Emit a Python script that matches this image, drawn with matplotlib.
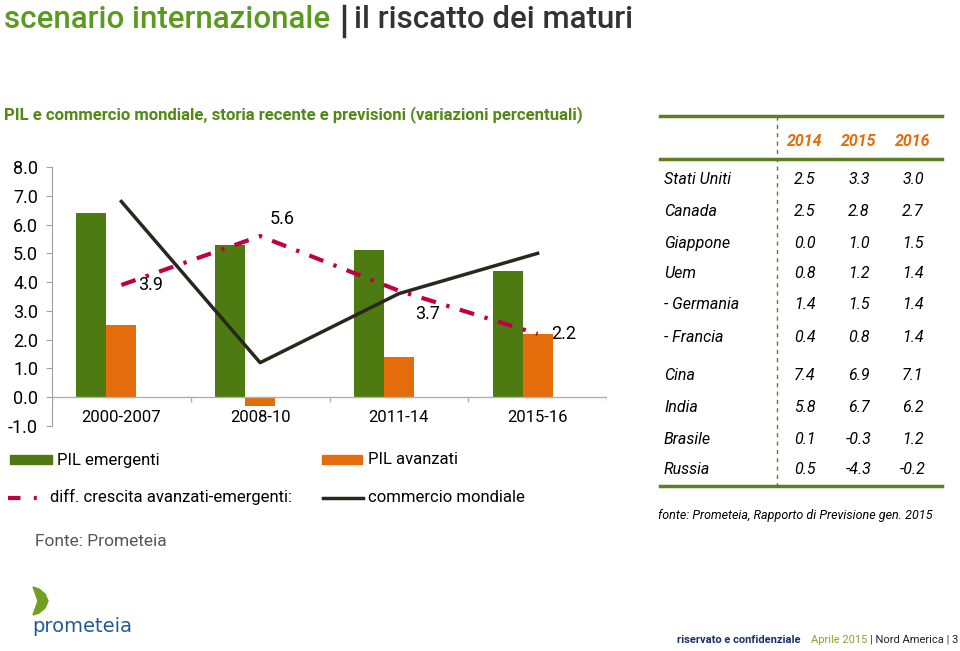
import numpy as np
import matplotlib
matplotlib.use('Agg')
import matplotlib.pyplot as plt
from matplotlib.lines import Line2D
from matplotlib.patches import Rectangle, Polygon

# Dati del grafico
periodi = ['2000-2007', '2008-10', '2011-14', '2015-16']
pil_emergenti = [6.4, 5.3, 5.1, 4.4]
pil_avanzati = [2.5, -0.3, 1.4, 2.2]
diff_crescita = [3.9, 5.6, 3.7, 2.2]
commercio = [6.8, 1.2, 3.6, 5.0]

# Dati della tabella
anni = ['2014', '2015', '2016']
paesi_1 = ['Stati Uniti', 'Canada', 'Giappone', 'Uem', '- Germania', '- Francia']
valori_1 = [['2.5', '3.3', '3.0'], ['2.5', '2.8', '2.7'], ['0.0', '1.0', '1.5'],
            ['0.8', '1.2', '1.4'], ['1.4', '1.5', '1.4'], ['0.4', '0.8', '1.4']]
paesi_2 = ['Cina', 'India', 'Brasile', 'Russia']
valori_2 = [['7.4', '6.9', '7.1'], ['5.8', '6.7', '6.2'],
            ['0.1', '-0.3', '1.2'], ['0.5', '-4.3', '-0.2']]

# Colori
VERDE = '#4E7A12'
ARANCIO = '#E46C0A'
ROSSO = '#C00040'
NERO = '#2A271C'
VERDE_TITOLO = '#5A9A1E'
VERDE_LINEA = '#5E7F1E'
W, H = 960, 651

plt.rcParams['font.family'] = ['Roboto', 'DejaVu Sans']

fig = plt.figure(figsize=(W / 100, H / 100), dpi=100)


def px(x, y):
    """Pixel -> coordinate figura."""
    return x / W, 1 - y / H


def testo(x, y, s, **kw):
    fx, fy = px(x, y)
    fig.text(fx, fy, s, **kw)


def linea(x0, y0, x1, y1, **kw):
    a = px(x0, y0)
    b = px(x1, y1)
    fig.add_artist(Line2D([a[0], b[0]], [a[1], b[1]], transform=fig.transFigure, **kw))


# Titolo
testo(4, 20, 'scenario internazionale', fontsize=22.5, color=VERDE_TITOLO, va='center',
      fontweight='medium')
linea(344, 6, 344, 36, color='#333333', lw=2.5)
testo(354, 20, 'il riscatto dei maturi', fontsize=22.5, color='#333333', va='center',
      fontweight='medium')
testo(4, 115, 'PIL e commercio mondiale, storia recente e previsioni (variazioni percentuali)',
      fontsize=12, color='#4E8A14', fontweight='bold', va='center')

# Grafico principale
l, r, t, b = 52, 607, 167, 426
ax = fig.add_axes([l / W, 1 - b / H, (r - l) / W, (b - t) / H])
x = np.arange(len(periodi))
w = 0.216
ax.bar(x - w, pil_emergenti, width=w, color=VERDE, align='center')
ax.bar(x, pil_avanzati, width=w, color=ARANCIO, align='center')
ax.plot(x, diff_crescita, color=ROSSO, lw=3, dashes=(3.6, 2.6, 0.8, 2.6))
ax.plot(x, commercio, color=NERO, lw=2.5)

ax.set_xlim(-0.5, 3.5)
ax.set_ylim(-1, 8)
ax.set_yticks(np.arange(-1, 9))
ax.set_yticklabels([f'{v:.1f}' for v in np.arange(-1, 9)], fontsize=13)
ax.tick_params(axis='y', length=4, color='#A0A0A0', pad=6)
ax.set_xticks([])
for s in ['top', 'right', 'bottom']:
    ax.spines[s].set_visible(False)
ax.spines['left'].set_color('#A0A0A0')
ax.axhline(0, color='#B0B0B0', lw=1)
ax.vlines(np.arange(5) - 0.5, -0.18, 0, color='#B0B0B0', lw=1)
ax.patch.set_alpha(0)
for i, p in enumerate(periodi):
    ax.text(i, -0.7, p, ha='center', va='center', fontsize=12)

# Etichette della differenza
off = [(0.12, 0.0), (0.07, 0.6), (0.12, -0.8), (0.1, 0.0)]
for i, v in enumerate(diff_crescita):
    dx, dy = off[i]
    ax.text(i + dx, v + dy, f'{v:.1f}', ha='left', va='center', fontsize=13)

# Legenda
fig.add_artist(Rectangle(px(10, 464), 42 / W, 9 / H, transform=fig.transFigure, color=VERDE))
testo(57, 460, 'PIL emergenti', fontsize=12, va='center')
fig.add_artist(Rectangle(px(322, 464), 40 / W, 9 / H, transform=fig.transFigure, color=ARANCIO))
testo(368, 460, 'PIL avanzati', fontsize=12, va='center')
linea(8, 498, 48, 498, color=ROSSO, lw=3, dashes=(3, 3.2, 0.7, 3.2))
testo(50, 497, 'diff. crescita avanzati-emergenti:', fontsize=12, va='center')
linea(323, 498, 363, 498, color=NERO, lw=2.5)
testo(368, 497, 'commercio mondiale', fontsize=12, va='center')
testo(35, 542, 'Fonte: Prometeia', fontsize=12.5, color='#555555', va='center')

# Tabella
linea(660, 116, 942, 116, color=VERDE_LINEA, lw=2.5)
linea(660, 159, 942, 159, color=VERDE_LINEA, lw=2.5)
linea(660, 486, 942, 486, color=VERDE_LINEA, lw=2.5)
linea(777, 116, 777, 486, color='#6E6E50', lw=1, ls=(0, (3, 3)))
col_x = [805, 859, 913]
for cx, a in zip(col_x, anni):
    testo(cx, 142, a, fontsize=11.5, color=ARANCIO, fontweight='bold', style='italic',
          ha='center', va='center')
righe_y1 = [180, 211, 243, 274, 305, 337]
for yy, p, vals in zip(righe_y1, paesi_1, valori_1):
    testo(664, yy, p, fontsize=11.5, style='italic', va='center')
    for cx, v in zip(col_x, vals):
        testo(cx, yy, v, fontsize=11.5, style='italic', ha='center', va='center')
righe_y2 = [376, 407, 439, 470]
for yy, p, vals in zip(righe_y2, paesi_2, valori_2):
    testo(664, yy, p, fontsize=11.5, style='italic', va='center')
    for cx, v in zip(col_x, vals):
        testo(cx, yy, v, fontsize=11.5, style='italic', ha='center', va='center')
testo(658, 515, 'fonte: Prometeia, Rapporto di Previsione gen. 2015', fontsize=9,
      style='italic', va='center')

# Logo
logo = [(33, 587), (39, 589), (45, 594), (48, 601), (45, 608), (39, 613), (33, 615),
        (38, 601)]
fig.add_artist(Polygon([px(a, c) for a, c in logo], closed=True, transform=fig.transFigure,
                       color='#6FA01E'))
testo(32, 627, 'prometeia', fontsize=14, color='#1F5A96', va='center', family='DejaVu Sans')

# Piè di pagina
testo(677, 640, 'riservato e confidenziale', fontsize=8, color='#1B2F6B', fontweight='bold',
      va='center')
testo(811, 640, 'Aprile 2015', fontsize=8, color='#8AA12A', va='center')
testo(958, 640, '| Nord America | 3', fontsize=8, color='#222222', va='center', ha='right')

fig.savefig('out.png', dpi=100)
